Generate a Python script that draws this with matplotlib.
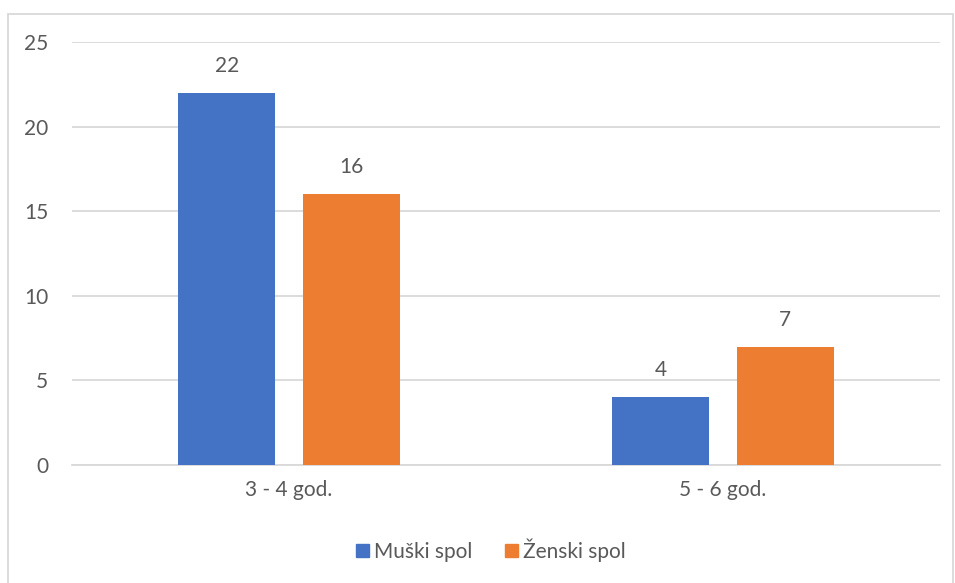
import matplotlib.pyplot as plt
import numpy as np
from matplotlib.patches import Rectangle, Patch

plt.rcParams['font.family'] = ['Lato', 'DejaVu Sans']

categories = ['3 - 4 god.', '5 - 6 god.']
muski = [22, 4]
zenski = [16, 7]
series_names = ['Muški spol', 'Ženski spol']
yticks = [0, 5, 10, 15, 20, 25]

blue = '#4472C4'
orange = '#ED7D31'
text_col = '#595959'
grid_col = '#D9D9D9'

fig = plt.figure(figsize=(9.55, 5.83), dpi=100)
ax = fig.add_axes([72 / 955, 1 - 465 / 583, 868 / 955, 423 / 583])

x = np.arange(len(categories))
w = 0.2235
off = 0.143
b1 = ax.bar(x - off, muski, w, color=blue, zorder=3)
b2 = ax.bar(x + off, zenski, w, color=orange, zorder=3)

for bars, vals in ((b1, muski), (b2, zenski)):
    for b, v in zip(bars, vals):
        ax.text(b.get_x() + b.get_width() / 2, v + 1.0, str(v), ha='center', va='bottom',
                fontsize=15, color=text_col)

ax.set_xlim(-0.5, 1.5)
ax.set_ylim(0, 25)
ax.set_yticks(yticks)
ax.set_xticks(x)
ax.set_xticklabels(categories)
ax.yaxis.grid(True, color=grid_col, linewidth=1.3, zorder=0)
ax.set_axisbelow(True)
for s in ['top', 'right', 'left']:
    ax.spines[s].set_visible(False)
ax.spines['bottom'].set_color(grid_col)
ax.spines['bottom'].set_linewidth(1.3)
ax.tick_params(axis='both', length=0, labelsize=15, labelcolor=text_col)
ax.tick_params(axis='y', pad=17)
ax.tick_params(axis='x', pad=11)

handles = [Patch(color=blue, label=series_names[0]), Patch(color=orange, label=series_names[1])]
fig.legend(handles=handles, loc='center', bbox_to_anchor=(491 / 955, 1 - 550 / 583), ncol=2,
           frameon=False, fontsize=15, labelcolor=text_col, handlelength=0.6, handleheight=0.6,
           handletextpad=0.25, columnspacing=1.6)

fig.patches.append(Rectangle((7.5 / 955, -0.01), 945 / 955, 1 - 13.5 / 583 + 0.01,
                             transform=fig.transFigure, fill=False, edgecolor='#D9D9D9', linewidth=1.3))

fig.savefig('out.png', dpi=100)
